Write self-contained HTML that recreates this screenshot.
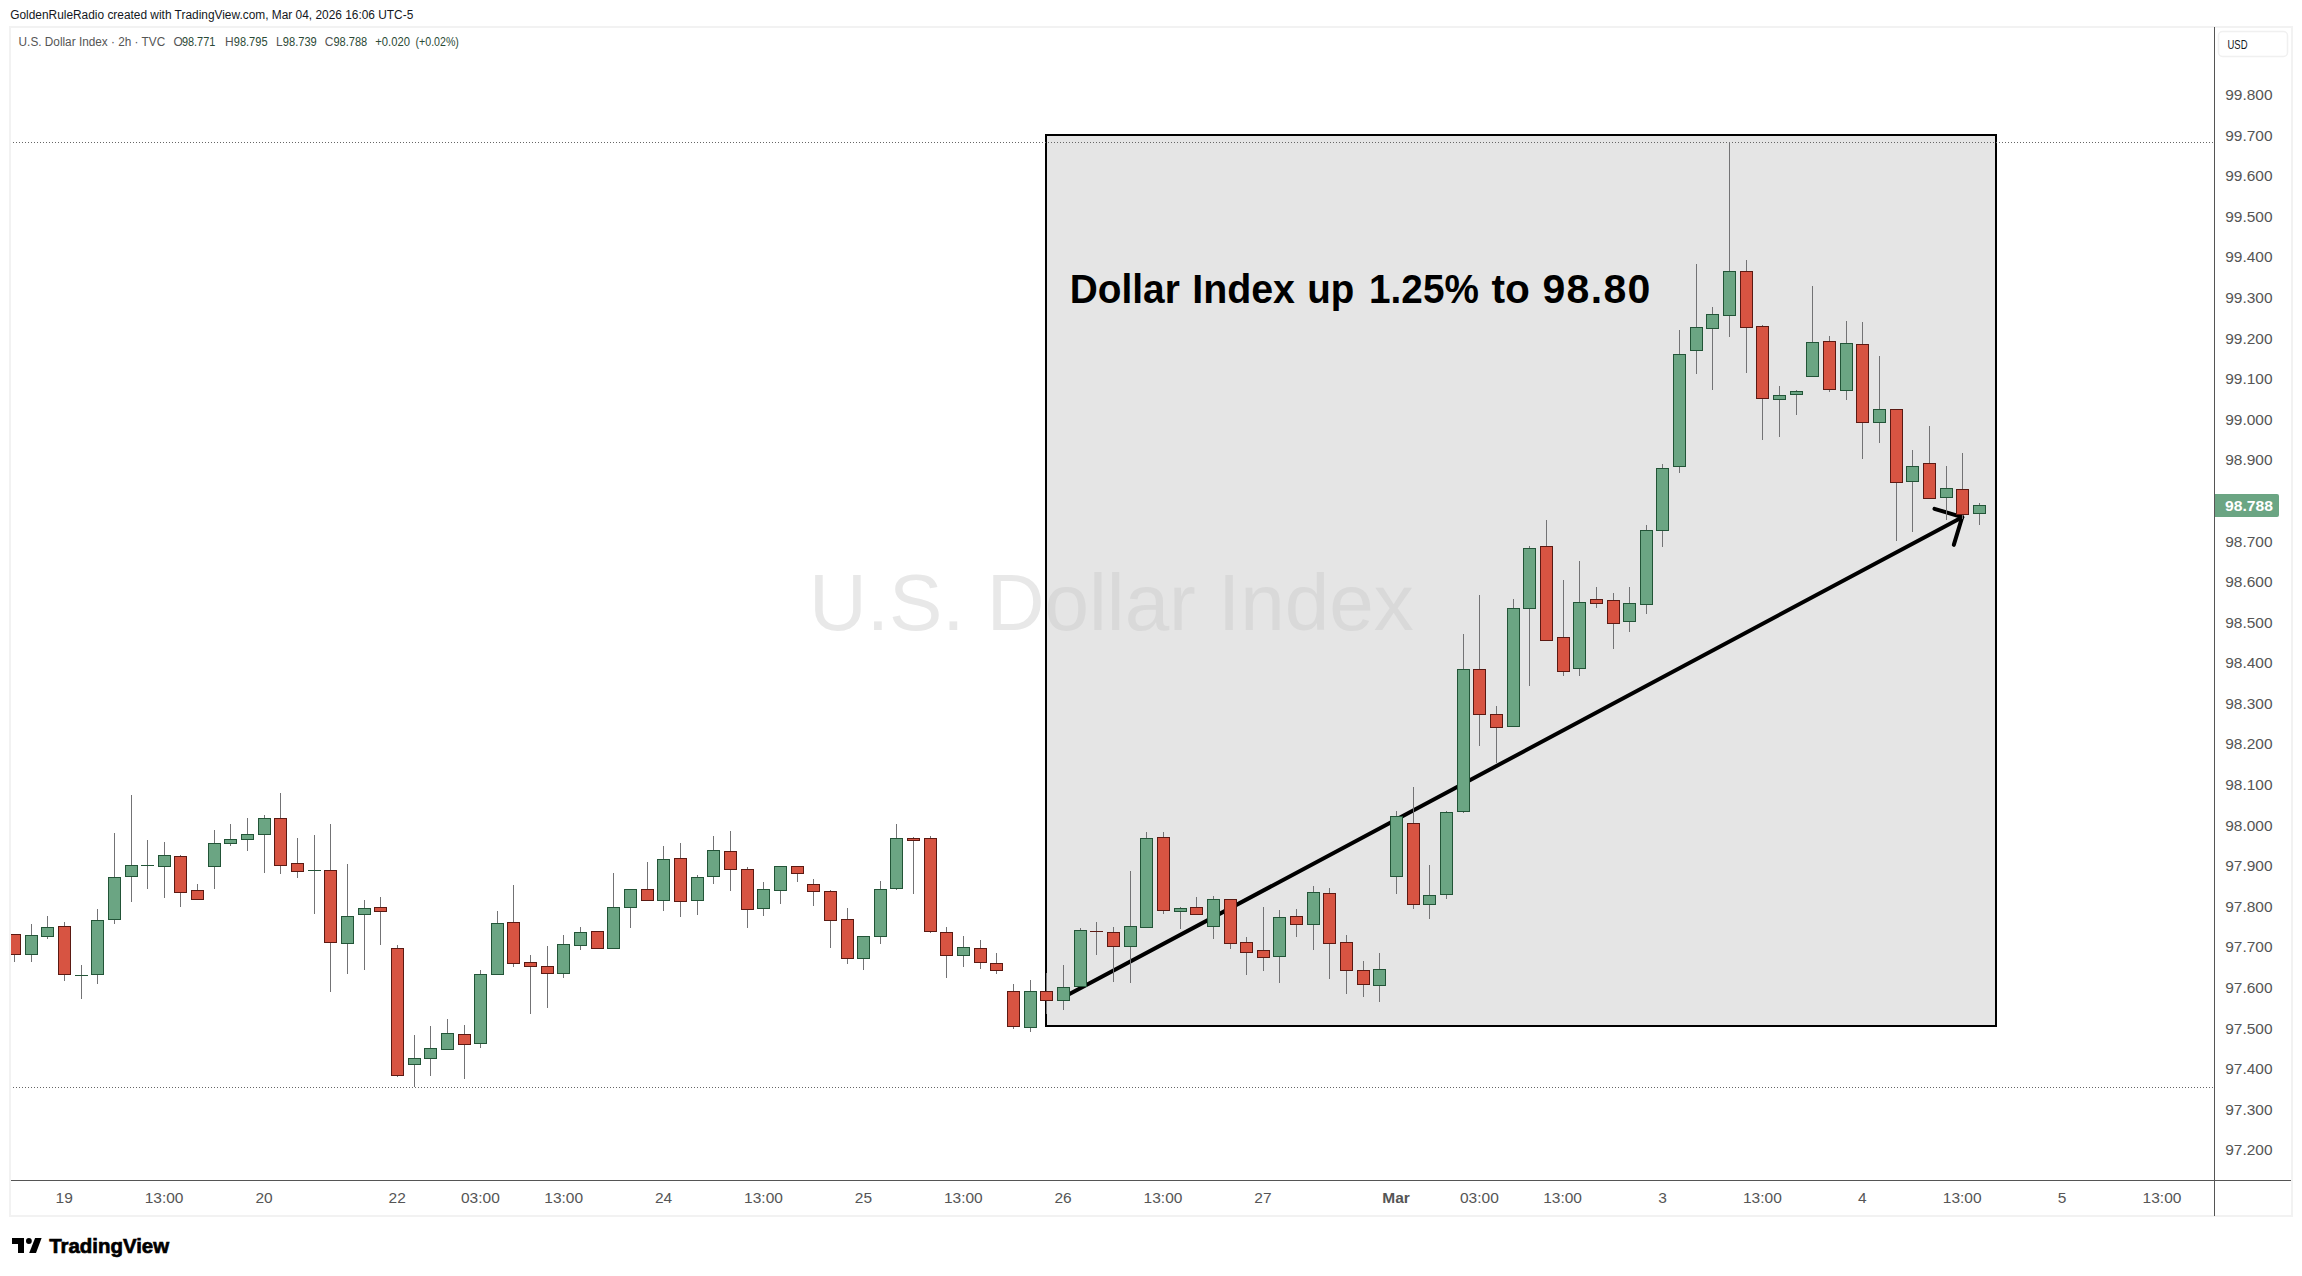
<!DOCTYPE html>
<html><head><meta charset="utf-8"><title>U.S. Dollar Index chart</title>
<style>html,body{margin:0;padding:0;background:#fff;overflow:hidden}svg{display:block}</style>
</head><body>
<svg width="2302" height="1276" viewBox="0 0 2302 1276"><rect x="0" y="0" width="2302" height="1276" fill="#ffffff"/>
<text x="10.20" y="19" font-family="Liberation Sans, DejaVu Sans, sans-serif" font-size="12.5" fill="#131722" textLength="403.10" lengthAdjust="spacingAndGlyphs">GoldenRuleRadio created with TradingView.com, Mar 04, 2026 16:06 UTC-5</text>
<rect x="10" y="27" width="2282" height="1189" fill="none" stroke="#f2f2f2" stroke-width="2"/>
<text x="809" y="630" font-family="Liberation Sans, Arial, sans-serif" font-size="80" fill="#e8e8e8">U.S. Dollar Index</text>
<rect x="1045" y="134" width="952" height="893" fill="rgb(201,201,201)" fill-opacity="0.48"/>
<rect x="1046" y="135" width="950" height="891" fill="none" stroke="#000" stroke-width="2"/>
<line x1="13" y1="142.5" x2="2213" y2="142.5" stroke="#666" stroke-width="1" stroke-dasharray="1 2"/>
<line x1="13" y1="1087.5" x2="2213" y2="1087.5" stroke="#666" stroke-width="1" stroke-dasharray="1 2"/>
<line x1="1063.4" y1="997.3" x2="1962.2" y2="517.2" stroke="#000" stroke-width="4" stroke-linecap="round"/>
<line x1="1962.2" y1="517.2" x2="1934.5" y2="508.8" stroke="#000" stroke-width="4" stroke-linecap="round"/>
<line x1="1962.2" y1="517.2" x2="1953.8" y2="544.9" stroke="#000" stroke-width="4" stroke-linecap="round"/>
<clipPath id="pane"><rect x="11" y="28" width="2203" height="1152"/></clipPath>
<g shape-rendering="crispEdges" clip-path="url(#pane)"><rect x="14" y="934" width="1" height="28" fill="#737375"/><rect x="8" y="934" width="13" height="21" fill="#5b1a13"/><rect x="9" y="935" width="11" height="19" fill="#d75442"/><rect x="31" y="924" width="1" height="38" fill="#737375"/><rect x="25" y="935" width="13" height="20" fill="#225437"/><rect x="26" y="936" width="11" height="18" fill="#6ba583"/><rect x="47" y="916" width="1" height="23" fill="#737375"/><rect x="41" y="927" width="13" height="10" fill="#225437"/><rect x="42" y="928" width="11" height="8" fill="#6ba583"/><rect x="64" y="922" width="1" height="59" fill="#737375"/><rect x="58" y="926" width="13" height="49" fill="#5b1a13"/><rect x="59" y="927" width="11" height="47" fill="#d75442"/><rect x="81" y="965" width="1" height="34" fill="#737375"/><rect x="75" y="975" width="13" height="1" fill="#225437"/><rect x="97" y="909" width="1" height="75" fill="#737375"/><rect x="91" y="920" width="13" height="55" fill="#225437"/><rect x="92" y="921" width="11" height="53" fill="#6ba583"/><rect x="114" y="833" width="1" height="91" fill="#737375"/><rect x="108" y="877" width="13" height="43" fill="#225437"/><rect x="109" y="878" width="11" height="41" fill="#6ba583"/><rect x="131" y="795" width="1" height="107" fill="#737375"/><rect x="125" y="865" width="13" height="12" fill="#225437"/><rect x="126" y="866" width="11" height="10" fill="#6ba583"/><rect x="147" y="840" width="1" height="49" fill="#737375"/><rect x="141" y="865" width="13" height="1" fill="#225437"/><rect x="164" y="842" width="1" height="56" fill="#737375"/><rect x="158" y="855" width="13" height="12" fill="#225437"/><rect x="159" y="856" width="11" height="10" fill="#6ba583"/><rect x="180" y="855" width="1" height="52" fill="#737375"/><rect x="174" y="856" width="13" height="37" fill="#5b1a13"/><rect x="175" y="857" width="11" height="35" fill="#d75442"/><rect x="197" y="884" width="1" height="16" fill="#737375"/><rect x="191" y="890" width="13" height="10" fill="#5b1a13"/><rect x="192" y="891" width="11" height="8" fill="#d75442"/><rect x="214" y="830" width="1" height="59" fill="#737375"/><rect x="208" y="843" width="13" height="24" fill="#225437"/><rect x="209" y="844" width="11" height="22" fill="#6ba583"/><rect x="230" y="824" width="1" height="22" fill="#737375"/><rect x="224" y="839" width="13" height="5" fill="#225437"/><rect x="225" y="840" width="11" height="3" fill="#6ba583"/><rect x="247" y="818" width="1" height="33" fill="#737375"/><rect x="241" y="834" width="13" height="6" fill="#225437"/><rect x="242" y="835" width="11" height="4" fill="#6ba583"/><rect x="264" y="815" width="1" height="58" fill="#737375"/><rect x="258" y="818" width="13" height="17" fill="#225437"/><rect x="259" y="819" width="11" height="15" fill="#6ba583"/><rect x="280" y="793" width="1" height="81" fill="#737375"/><rect x="274" y="818" width="13" height="48" fill="#5b1a13"/><rect x="275" y="819" width="11" height="46" fill="#d75442"/><rect x="297" y="838" width="1" height="40" fill="#737375"/><rect x="291" y="863" width="13" height="9" fill="#5b1a13"/><rect x="292" y="864" width="11" height="7" fill="#d75442"/><rect x="314" y="835" width="1" height="79" fill="#737375"/><rect x="308" y="870" width="13" height="1" fill="#225437"/><rect x="330" y="824" width="1" height="168" fill="#737375"/><rect x="324" y="870" width="13" height="73" fill="#5b1a13"/><rect x="325" y="871" width="11" height="71" fill="#d75442"/><rect x="347" y="864" width="1" height="110" fill="#737375"/><rect x="341" y="916" width="13" height="28" fill="#225437"/><rect x="342" y="917" width="11" height="26" fill="#6ba583"/><rect x="364" y="900" width="1" height="70" fill="#737375"/><rect x="358" y="908" width="13" height="7" fill="#225437"/><rect x="359" y="909" width="11" height="5" fill="#6ba583"/><rect x="380" y="897" width="1" height="48" fill="#737375"/><rect x="374" y="907" width="13" height="5" fill="#5b1a13"/><rect x="375" y="908" width="11" height="3" fill="#d75442"/><rect x="397" y="945" width="1" height="132" fill="#737375"/><rect x="391" y="948" width="13" height="128" fill="#5b1a13"/><rect x="392" y="949" width="11" height="126" fill="#d75442"/><rect x="414" y="1035" width="1" height="52" fill="#737375"/><rect x="408" y="1058" width="13" height="7" fill="#225437"/><rect x="409" y="1059" width="11" height="5" fill="#6ba583"/><rect x="430" y="1026" width="1" height="50" fill="#737375"/><rect x="424" y="1048" width="13" height="11" fill="#225437"/><rect x="425" y="1049" width="11" height="9" fill="#6ba583"/><rect x="447" y="1019" width="1" height="31" fill="#737375"/><rect x="441" y="1033" width="13" height="17" fill="#225437"/><rect x="442" y="1034" width="11" height="15" fill="#6ba583"/><rect x="464" y="1025" width="1" height="54" fill="#737375"/><rect x="458" y="1034" width="13" height="11" fill="#5b1a13"/><rect x="459" y="1035" width="11" height="9" fill="#d75442"/><rect x="480" y="970" width="1" height="78" fill="#737375"/><rect x="474" y="974" width="13" height="70" fill="#225437"/><rect x="475" y="975" width="11" height="68" fill="#6ba583"/><rect x="497" y="911" width="1" height="64" fill="#737375"/><rect x="491" y="923" width="13" height="52" fill="#225437"/><rect x="492" y="924" width="11" height="50" fill="#6ba583"/><rect x="513" y="885" width="1" height="82" fill="#737375"/><rect x="507" y="922" width="13" height="42" fill="#5b1a13"/><rect x="508" y="923" width="11" height="40" fill="#d75442"/><rect x="530" y="955" width="1" height="59" fill="#737375"/><rect x="524" y="962" width="13" height="5" fill="#5b1a13"/><rect x="525" y="963" width="11" height="3" fill="#d75442"/><rect x="547" y="946" width="1" height="62" fill="#737375"/><rect x="541" y="966" width="13" height="8" fill="#5b1a13"/><rect x="542" y="967" width="11" height="6" fill="#d75442"/><rect x="563" y="935" width="1" height="43" fill="#737375"/><rect x="557" y="944" width="13" height="30" fill="#225437"/><rect x="558" y="945" width="11" height="28" fill="#6ba583"/><rect x="580" y="927" width="1" height="23" fill="#737375"/><rect x="574" y="932" width="13" height="14" fill="#225437"/><rect x="575" y="933" width="11" height="12" fill="#6ba583"/><rect x="597" y="931" width="1" height="18" fill="#737375"/><rect x="591" y="931" width="13" height="18" fill="#5b1a13"/><rect x="592" y="932" width="11" height="16" fill="#d75442"/><rect x="613" y="873" width="1" height="76" fill="#737375"/><rect x="607" y="907" width="13" height="42" fill="#225437"/><rect x="608" y="908" width="11" height="40" fill="#6ba583"/><rect x="630" y="889" width="1" height="39" fill="#737375"/><rect x="624" y="889" width="13" height="19" fill="#225437"/><rect x="625" y="890" width="11" height="17" fill="#6ba583"/><rect x="647" y="862" width="1" height="39" fill="#737375"/><rect x="641" y="889" width="13" height="12" fill="#5b1a13"/><rect x="642" y="890" width="11" height="10" fill="#d75442"/><rect x="663" y="846" width="1" height="65" fill="#737375"/><rect x="657" y="859" width="13" height="42" fill="#225437"/><rect x="658" y="860" width="11" height="40" fill="#6ba583"/><rect x="680" y="843" width="1" height="74" fill="#737375"/><rect x="674" y="858" width="13" height="44" fill="#5b1a13"/><rect x="675" y="859" width="11" height="42" fill="#d75442"/><rect x="697" y="875" width="1" height="40" fill="#737375"/><rect x="691" y="877" width="13" height="24" fill="#225437"/><rect x="692" y="878" width="11" height="22" fill="#6ba583"/><rect x="713" y="836" width="1" height="48" fill="#737375"/><rect x="707" y="850" width="13" height="27" fill="#225437"/><rect x="708" y="851" width="11" height="25" fill="#6ba583"/><rect x="730" y="831" width="1" height="60" fill="#737375"/><rect x="724" y="851" width="13" height="19" fill="#5b1a13"/><rect x="725" y="852" width="11" height="17" fill="#d75442"/><rect x="747" y="867" width="1" height="61" fill="#737375"/><rect x="741" y="869" width="13" height="41" fill="#5b1a13"/><rect x="742" y="870" width="11" height="39" fill="#d75442"/><rect x="763" y="882" width="1" height="34" fill="#737375"/><rect x="757" y="889" width="13" height="20" fill="#225437"/><rect x="758" y="890" width="11" height="18" fill="#6ba583"/><rect x="780" y="866" width="1" height="38" fill="#737375"/><rect x="774" y="866" width="13" height="25" fill="#225437"/><rect x="775" y="867" width="11" height="23" fill="#6ba583"/><rect x="797" y="866" width="1" height="16" fill="#737375"/><rect x="791" y="866" width="13" height="8" fill="#5b1a13"/><rect x="792" y="867" width="11" height="6" fill="#d75442"/><rect x="813" y="879" width="1" height="27" fill="#737375"/><rect x="807" y="884" width="13" height="8" fill="#5b1a13"/><rect x="808" y="885" width="11" height="6" fill="#d75442"/><rect x="830" y="890" width="1" height="58" fill="#737375"/><rect x="824" y="891" width="13" height="30" fill="#5b1a13"/><rect x="825" y="892" width="11" height="28" fill="#d75442"/><rect x="847" y="908" width="1" height="56" fill="#737375"/><rect x="841" y="919" width="13" height="40" fill="#5b1a13"/><rect x="842" y="920" width="11" height="38" fill="#d75442"/><rect x="863" y="936" width="1" height="34" fill="#737375"/><rect x="857" y="936" width="13" height="23" fill="#225437"/><rect x="858" y="937" width="11" height="21" fill="#6ba583"/><rect x="880" y="881" width="1" height="63" fill="#737375"/><rect x="874" y="889" width="13" height="48" fill="#225437"/><rect x="875" y="890" width="11" height="46" fill="#6ba583"/><rect x="896" y="824" width="1" height="66" fill="#737375"/><rect x="890" y="838" width="13" height="51" fill="#225437"/><rect x="891" y="839" width="11" height="49" fill="#6ba583"/><rect x="913" y="837" width="1" height="57" fill="#737375"/><rect x="907" y="838" width="13" height="3" fill="#5b1a13"/><rect x="908" y="839" width="11" height="1" fill="#d75442"/><rect x="930" y="836" width="1" height="97" fill="#737375"/><rect x="924" y="838" width="13" height="94" fill="#5b1a13"/><rect x="925" y="839" width="11" height="92" fill="#d75442"/><rect x="946" y="927" width="1" height="51" fill="#737375"/><rect x="940" y="932" width="13" height="24" fill="#5b1a13"/><rect x="941" y="933" width="11" height="22" fill="#d75442"/><rect x="963" y="936" width="1" height="31" fill="#737375"/><rect x="957" y="947" width="13" height="9" fill="#225437"/><rect x="958" y="948" width="11" height="7" fill="#6ba583"/><rect x="980" y="940" width="1" height="29" fill="#737375"/><rect x="974" y="948" width="13" height="15" fill="#5b1a13"/><rect x="975" y="949" width="11" height="13" fill="#d75442"/><rect x="996" y="953" width="1" height="21" fill="#737375"/><rect x="990" y="963" width="13" height="8" fill="#5b1a13"/><rect x="991" y="964" width="11" height="6" fill="#d75442"/><rect x="1013" y="984" width="1" height="45" fill="#737375"/><rect x="1007" y="991" width="13" height="36" fill="#5b1a13"/><rect x="1008" y="992" width="11" height="34" fill="#d75442"/><rect x="1030" y="980" width="1" height="52" fill="#737375"/><rect x="1024" y="991" width="13" height="37" fill="#225437"/><rect x="1025" y="992" width="11" height="35" fill="#6ba583"/><rect x="1046" y="973" width="1" height="41" fill="#737375"/><rect x="1040" y="991" width="13" height="10" fill="#5b1a13"/><rect x="1041" y="992" width="11" height="8" fill="#d75442"/><rect x="1063" y="965" width="1" height="45" fill="#737375"/><rect x="1057" y="987" width="13" height="14" fill="#225437"/><rect x="1058" y="988" width="11" height="12" fill="#6ba583"/><rect x="1080" y="928" width="1" height="59" fill="#737375"/><rect x="1074" y="930" width="13" height="57" fill="#225437"/><rect x="1075" y="931" width="11" height="55" fill="#6ba583"/><rect x="1096" y="922" width="1" height="33" fill="#737375"/><rect x="1090" y="931" width="13" height="1" fill="#5b1a13"/><rect x="1113" y="927" width="1" height="55" fill="#737375"/><rect x="1107" y="932" width="13" height="15" fill="#5b1a13"/><rect x="1108" y="933" width="11" height="13" fill="#d75442"/><rect x="1130" y="871" width="1" height="112" fill="#737375"/><rect x="1124" y="926" width="13" height="21" fill="#225437"/><rect x="1125" y="927" width="11" height="19" fill="#6ba583"/><rect x="1146" y="832" width="1" height="96" fill="#737375"/><rect x="1140" y="838" width="13" height="90" fill="#225437"/><rect x="1141" y="839" width="11" height="88" fill="#6ba583"/><rect x="1163" y="832" width="1" height="82" fill="#737375"/><rect x="1157" y="837" width="13" height="74" fill="#5b1a13"/><rect x="1158" y="838" width="11" height="72" fill="#d75442"/><rect x="1180" y="907" width="1" height="22" fill="#737375"/><rect x="1174" y="908" width="13" height="4" fill="#225437"/><rect x="1175" y="909" width="11" height="2" fill="#6ba583"/><rect x="1196" y="897" width="1" height="18" fill="#737375"/><rect x="1190" y="907" width="13" height="8" fill="#5b1a13"/><rect x="1191" y="908" width="11" height="6" fill="#d75442"/><rect x="1213" y="896" width="1" height="43" fill="#737375"/><rect x="1207" y="899" width="13" height="28" fill="#225437"/><rect x="1208" y="900" width="11" height="26" fill="#6ba583"/><rect x="1230" y="899" width="1" height="50" fill="#737375"/><rect x="1224" y="899" width="13" height="45" fill="#5b1a13"/><rect x="1225" y="900" width="11" height="43" fill="#d75442"/><rect x="1246" y="937" width="1" height="38" fill="#737375"/><rect x="1240" y="942" width="13" height="11" fill="#5b1a13"/><rect x="1241" y="943" width="11" height="9" fill="#d75442"/><rect x="1263" y="907" width="1" height="64" fill="#737375"/><rect x="1257" y="950" width="13" height="8" fill="#5b1a13"/><rect x="1258" y="951" width="11" height="6" fill="#d75442"/><rect x="1279" y="910" width="1" height="73" fill="#737375"/><rect x="1273" y="917" width="13" height="40" fill="#225437"/><rect x="1274" y="918" width="11" height="38" fill="#6ba583"/><rect x="1296" y="909" width="1" height="28" fill="#737375"/><rect x="1290" y="916" width="13" height="9" fill="#5b1a13"/><rect x="1291" y="917" width="11" height="7" fill="#d75442"/><rect x="1313" y="886" width="1" height="64" fill="#737375"/><rect x="1307" y="892" width="13" height="33" fill="#225437"/><rect x="1308" y="893" width="11" height="31" fill="#6ba583"/><rect x="1329" y="888" width="1" height="91" fill="#737375"/><rect x="1323" y="893" width="13" height="51" fill="#5b1a13"/><rect x="1324" y="894" width="11" height="49" fill="#d75442"/><rect x="1346" y="935" width="1" height="59" fill="#737375"/><rect x="1340" y="942" width="13" height="29" fill="#5b1a13"/><rect x="1341" y="943" width="11" height="27" fill="#d75442"/><rect x="1363" y="961" width="1" height="36" fill="#737375"/><rect x="1357" y="970" width="13" height="15" fill="#5b1a13"/><rect x="1358" y="971" width="11" height="13" fill="#d75442"/><rect x="1379" y="953" width="1" height="49" fill="#737375"/><rect x="1373" y="969" width="13" height="17" fill="#225437"/><rect x="1374" y="970" width="11" height="15" fill="#6ba583"/><rect x="1396" y="811" width="1" height="83" fill="#737375"/><rect x="1390" y="816" width="13" height="61" fill="#225437"/><rect x="1391" y="817" width="11" height="59" fill="#6ba583"/><rect x="1413" y="787" width="1" height="122" fill="#737375"/><rect x="1407" y="823" width="13" height="82" fill="#5b1a13"/><rect x="1408" y="824" width="11" height="80" fill="#d75442"/><rect x="1429" y="865" width="1" height="54" fill="#737375"/><rect x="1423" y="895" width="13" height="10" fill="#225437"/><rect x="1424" y="896" width="11" height="8" fill="#6ba583"/><rect x="1446" y="811" width="1" height="88" fill="#737375"/><rect x="1440" y="812" width="13" height="83" fill="#225437"/><rect x="1441" y="813" width="11" height="81" fill="#6ba583"/><rect x="1463" y="634" width="1" height="179" fill="#737375"/><rect x="1457" y="669" width="13" height="143" fill="#225437"/><rect x="1458" y="670" width="11" height="141" fill="#6ba583"/><rect x="1479" y="595" width="1" height="151" fill="#737375"/><rect x="1473" y="669" width="13" height="46" fill="#5b1a13"/><rect x="1474" y="670" width="11" height="44" fill="#d75442"/><rect x="1496" y="706" width="1" height="57" fill="#737375"/><rect x="1490" y="714" width="13" height="14" fill="#5b1a13"/><rect x="1491" y="715" width="11" height="12" fill="#d75442"/><rect x="1513" y="599" width="1" height="128" fill="#737375"/><rect x="1507" y="608" width="13" height="119" fill="#225437"/><rect x="1508" y="609" width="11" height="117" fill="#6ba583"/><rect x="1529" y="546" width="1" height="140" fill="#737375"/><rect x="1523" y="548" width="13" height="61" fill="#225437"/><rect x="1524" y="549" width="11" height="59" fill="#6ba583"/><rect x="1546" y="520" width="1" height="121" fill="#737375"/><rect x="1540" y="546" width="13" height="95" fill="#5b1a13"/><rect x="1541" y="547" width="11" height="93" fill="#d75442"/><rect x="1563" y="580" width="1" height="96" fill="#737375"/><rect x="1557" y="637" width="13" height="35" fill="#5b1a13"/><rect x="1558" y="638" width="11" height="33" fill="#d75442"/><rect x="1579" y="561" width="1" height="115" fill="#737375"/><rect x="1573" y="602" width="13" height="67" fill="#225437"/><rect x="1574" y="603" width="11" height="65" fill="#6ba583"/><rect x="1596" y="587" width="1" height="21" fill="#737375"/><rect x="1590" y="599" width="13" height="5" fill="#5b1a13"/><rect x="1591" y="600" width="11" height="3" fill="#d75442"/><rect x="1613" y="593" width="1" height="56" fill="#737375"/><rect x="1607" y="600" width="13" height="24" fill="#5b1a13"/><rect x="1608" y="601" width="11" height="22" fill="#d75442"/><rect x="1629" y="587" width="1" height="45" fill="#737375"/><rect x="1623" y="603" width="13" height="19" fill="#225437"/><rect x="1624" y="604" width="11" height="17" fill="#6ba583"/><rect x="1646" y="525" width="1" height="89" fill="#737375"/><rect x="1640" y="530" width="13" height="75" fill="#225437"/><rect x="1641" y="531" width="11" height="73" fill="#6ba583"/><rect x="1662" y="464" width="1" height="83" fill="#737375"/><rect x="1656" y="468" width="13" height="63" fill="#225437"/><rect x="1657" y="469" width="11" height="61" fill="#6ba583"/><rect x="1679" y="330" width="1" height="143" fill="#737375"/><rect x="1673" y="354" width="13" height="113" fill="#225437"/><rect x="1674" y="355" width="11" height="111" fill="#6ba583"/><rect x="1696" y="264" width="1" height="110" fill="#737375"/><rect x="1690" y="327" width="13" height="24" fill="#225437"/><rect x="1691" y="328" width="11" height="22" fill="#6ba583"/><rect x="1712" y="307" width="1" height="83" fill="#737375"/><rect x="1706" y="314" width="13" height="15" fill="#225437"/><rect x="1707" y="315" width="11" height="13" fill="#6ba583"/><rect x="1729" y="142" width="1" height="195" fill="#737375"/><rect x="1723" y="271" width="13" height="45" fill="#225437"/><rect x="1724" y="272" width="11" height="43" fill="#6ba583"/><rect x="1746" y="260" width="1" height="113" fill="#737375"/><rect x="1740" y="271" width="13" height="57" fill="#5b1a13"/><rect x="1741" y="272" width="11" height="55" fill="#d75442"/><rect x="1762" y="325" width="1" height="115" fill="#737375"/><rect x="1756" y="326" width="13" height="73" fill="#5b1a13"/><rect x="1757" y="327" width="11" height="71" fill="#d75442"/><rect x="1779" y="386" width="1" height="51" fill="#737375"/><rect x="1773" y="395" width="13" height="5" fill="#225437"/><rect x="1774" y="396" width="11" height="3" fill="#6ba583"/><rect x="1796" y="390" width="1" height="25" fill="#737375"/><rect x="1790" y="391" width="13" height="4" fill="#225437"/><rect x="1791" y="392" width="11" height="2" fill="#6ba583"/><rect x="1812" y="286" width="1" height="91" fill="#737375"/><rect x="1806" y="342" width="13" height="35" fill="#225437"/><rect x="1807" y="343" width="11" height="33" fill="#6ba583"/><rect x="1829" y="336" width="1" height="56" fill="#737375"/><rect x="1823" y="341" width="13" height="49" fill="#5b1a13"/><rect x="1824" y="342" width="11" height="47" fill="#d75442"/><rect x="1846" y="321" width="1" height="79" fill="#737375"/><rect x="1840" y="343" width="13" height="48" fill="#225437"/><rect x="1841" y="344" width="11" height="46" fill="#6ba583"/><rect x="1862" y="322" width="1" height="137" fill="#737375"/><rect x="1856" y="344" width="13" height="79" fill="#5b1a13"/><rect x="1857" y="345" width="11" height="77" fill="#d75442"/><rect x="1879" y="356" width="1" height="87" fill="#737375"/><rect x="1873" y="409" width="13" height="14" fill="#225437"/><rect x="1874" y="410" width="11" height="12" fill="#6ba583"/><rect x="1896" y="409" width="1" height="132" fill="#737375"/><rect x="1890" y="409" width="13" height="74" fill="#5b1a13"/><rect x="1891" y="410" width="11" height="72" fill="#d75442"/><rect x="1912" y="450" width="1" height="82" fill="#737375"/><rect x="1906" y="466" width="13" height="16" fill="#225437"/><rect x="1907" y="467" width="11" height="14" fill="#6ba583"/><rect x="1929" y="426" width="1" height="73" fill="#737375"/><rect x="1923" y="463" width="13" height="36" fill="#5b1a13"/><rect x="1924" y="464" width="11" height="34" fill="#d75442"/><rect x="1946" y="466" width="1" height="54" fill="#737375"/><rect x="1940" y="488" width="13" height="10" fill="#225437"/><rect x="1941" y="489" width="11" height="8" fill="#6ba583"/><rect x="1962" y="453" width="1" height="66" fill="#737375"/><rect x="1956" y="489" width="13" height="26" fill="#5b1a13"/><rect x="1957" y="490" width="11" height="24" fill="#d75442"/><rect x="1979" y="503" width="1" height="22" fill="#737375"/><rect x="1973" y="505" width="13" height="9" fill="#225437"/><rect x="1974" y="506" width="11" height="7" fill="#6ba583"/></g>
<text x="1069.78" y="303" font-family="Liberation Sans, DejaVu Sans, sans-serif" font-size="41" font-weight="bold" fill="#000" textLength="109.97" lengthAdjust="spacingAndGlyphs">Dollar</text>
<text x="1192.25" y="303" font-family="Liberation Sans, DejaVu Sans, sans-serif" font-size="41" font-weight="bold" fill="#000" textLength="102.72" lengthAdjust="spacingAndGlyphs">Index</text>
<text x="1307.20" y="303" font-family="Liberation Sans, DejaVu Sans, sans-serif" font-size="41" font-weight="bold" fill="#000" textLength="47.01" lengthAdjust="spacingAndGlyphs">up</text>
<text x="1369.08" y="303" font-family="Liberation Sans, DejaVu Sans, sans-serif" font-size="41" font-weight="bold" fill="#000" textLength="109.81" lengthAdjust="spacingAndGlyphs">1.25%</text>
<text x="1491.59" y="303" font-family="Liberation Sans, DejaVu Sans, sans-serif" font-size="41" font-weight="bold" fill="#000" textLength="38.39" lengthAdjust="spacingAndGlyphs">to</text>
<text x="1542.47" y="303" font-family="Liberation Sans, DejaVu Sans, sans-serif" font-size="41" font-weight="bold" fill="#000" textLength="107.88" lengthAdjust="spacing">98.80</text>
<rect x="2214" y="27" width="1" height="1189" fill="#555"/>
<rect x="11" y="1180" width="2280" height="1" fill="#555"/>
<text x="2225.20" y="100.0" font-family="Liberation Sans, DejaVu Sans, sans-serif" font-size="15.5" fill="#555" textLength="47.32" lengthAdjust="spacingAndGlyphs">99.800</text>
<text x="2225.20" y="140.6" font-family="Liberation Sans, DejaVu Sans, sans-serif" font-size="15.5" fill="#555" textLength="47.32" lengthAdjust="spacingAndGlyphs">99.700</text>
<text x="2225.20" y="181.2" font-family="Liberation Sans, DejaVu Sans, sans-serif" font-size="15.5" fill="#555" textLength="47.32" lengthAdjust="spacingAndGlyphs">99.600</text>
<text x="2225.20" y="221.8" font-family="Liberation Sans, DejaVu Sans, sans-serif" font-size="15.5" fill="#555" textLength="47.32" lengthAdjust="spacingAndGlyphs">99.500</text>
<text x="2225.20" y="262.4" font-family="Liberation Sans, DejaVu Sans, sans-serif" font-size="15.5" fill="#555" textLength="47.32" lengthAdjust="spacingAndGlyphs">99.400</text>
<text x="2225.20" y="303.0" font-family="Liberation Sans, DejaVu Sans, sans-serif" font-size="15.5" fill="#555" textLength="47.32" lengthAdjust="spacingAndGlyphs">99.300</text>
<text x="2225.20" y="343.5" font-family="Liberation Sans, DejaVu Sans, sans-serif" font-size="15.5" fill="#555" textLength="47.32" lengthAdjust="spacingAndGlyphs">99.200</text>
<text x="2225.20" y="384.1" font-family="Liberation Sans, DejaVu Sans, sans-serif" font-size="15.5" fill="#555" textLength="47.32" lengthAdjust="spacingAndGlyphs">99.100</text>
<text x="2225.20" y="424.7" font-family="Liberation Sans, DejaVu Sans, sans-serif" font-size="15.5" fill="#555" textLength="47.32" lengthAdjust="spacingAndGlyphs">99.000</text>
<text x="2225.20" y="465.3" font-family="Liberation Sans, DejaVu Sans, sans-serif" font-size="15.5" fill="#555" textLength="47.32" lengthAdjust="spacingAndGlyphs">98.900</text>
<text x="2225.20" y="546.5" font-family="Liberation Sans, DejaVu Sans, sans-serif" font-size="15.5" fill="#555" textLength="47.32" lengthAdjust="spacingAndGlyphs">98.700</text>
<text x="2225.20" y="587.1" font-family="Liberation Sans, DejaVu Sans, sans-serif" font-size="15.5" fill="#555" textLength="47.32" lengthAdjust="spacingAndGlyphs">98.600</text>
<text x="2225.20" y="627.7" font-family="Liberation Sans, DejaVu Sans, sans-serif" font-size="15.5" fill="#555" textLength="47.32" lengthAdjust="spacingAndGlyphs">98.500</text>
<text x="2225.20" y="668.3" font-family="Liberation Sans, DejaVu Sans, sans-serif" font-size="15.5" fill="#555" textLength="47.32" lengthAdjust="spacingAndGlyphs">98.400</text>
<text x="2225.20" y="708.8" font-family="Liberation Sans, DejaVu Sans, sans-serif" font-size="15.5" fill="#555" textLength="47.32" lengthAdjust="spacingAndGlyphs">98.300</text>
<text x="2225.20" y="749.4" font-family="Liberation Sans, DejaVu Sans, sans-serif" font-size="15.5" fill="#555" textLength="47.32" lengthAdjust="spacingAndGlyphs">98.200</text>
<text x="2225.20" y="790.0" font-family="Liberation Sans, DejaVu Sans, sans-serif" font-size="15.5" fill="#555" textLength="47.32" lengthAdjust="spacingAndGlyphs">98.100</text>
<text x="2225.20" y="830.6" font-family="Liberation Sans, DejaVu Sans, sans-serif" font-size="15.5" fill="#555" textLength="47.32" lengthAdjust="spacingAndGlyphs">98.000</text>
<text x="2225.20" y="871.2" font-family="Liberation Sans, DejaVu Sans, sans-serif" font-size="15.5" fill="#555" textLength="47.32" lengthAdjust="spacingAndGlyphs">97.900</text>
<text x="2225.20" y="911.8" font-family="Liberation Sans, DejaVu Sans, sans-serif" font-size="15.5" fill="#555" textLength="47.32" lengthAdjust="spacingAndGlyphs">97.800</text>
<text x="2225.20" y="952.4" font-family="Liberation Sans, DejaVu Sans, sans-serif" font-size="15.5" fill="#555" textLength="47.32" lengthAdjust="spacingAndGlyphs">97.700</text>
<text x="2225.20" y="993.0" font-family="Liberation Sans, DejaVu Sans, sans-serif" font-size="15.5" fill="#555" textLength="47.32" lengthAdjust="spacingAndGlyphs">97.600</text>
<text x="2225.20" y="1033.6" font-family="Liberation Sans, DejaVu Sans, sans-serif" font-size="15.5" fill="#555" textLength="47.32" lengthAdjust="spacingAndGlyphs">97.500</text>
<text x="2225.20" y="1074.2" font-family="Liberation Sans, DejaVu Sans, sans-serif" font-size="15.5" fill="#555" textLength="47.32" lengthAdjust="spacingAndGlyphs">97.400</text>
<text x="2225.20" y="1114.8" font-family="Liberation Sans, DejaVu Sans, sans-serif" font-size="15.5" fill="#555" textLength="47.32" lengthAdjust="spacingAndGlyphs">97.300</text>
<text x="2225.20" y="1155.3" font-family="Liberation Sans, DejaVu Sans, sans-serif" font-size="15.5" fill="#555" textLength="47.32" lengthAdjust="spacingAndGlyphs">97.200</text>
<path d="M2215 494 H2277 a2 2 0 0 1 2 2 V515 a2 2 0 0 1 -2 2 H2215 Z" fill="#6ba583"/>
<text x="2225" y="511" font-family="Liberation Sans, DejaVu Sans, sans-serif" font-weight="bold" font-size="15" fill="#fff" textLength="48" lengthAdjust="spacingAndGlyphs">98.788</text>
<rect x="2218.5" y="31.5" width="69" height="25" rx="4" fill="#fff" stroke="#f0f0f0" stroke-width="1.5"/>
<text x="2227.5" y="48.7" font-family="Liberation Sans, DejaVu Sans, sans-serif" font-size="12" fill="#131722" textLength="20" lengthAdjust="spacingAndGlyphs">USD</text>
<text x="64.2" y="1203.2" text-anchor="middle" font-family="Liberation Sans, DejaVu Sans, sans-serif" font-size="15.5" fill="#555">19</text>
<text x="164.1" y="1203.2" text-anchor="middle" font-family="Liberation Sans, DejaVu Sans, sans-serif" font-size="15.5" fill="#555">13:00</text>
<text x="264.0" y="1203.2" text-anchor="middle" font-family="Liberation Sans, DejaVu Sans, sans-serif" font-size="15.5" fill="#555">20</text>
<text x="397.2" y="1203.2" text-anchor="middle" font-family="Liberation Sans, DejaVu Sans, sans-serif" font-size="15.5" fill="#555">22</text>
<text x="480.4" y="1203.2" text-anchor="middle" font-family="Liberation Sans, DejaVu Sans, sans-serif" font-size="15.5" fill="#555">03:00</text>
<text x="563.7" y="1203.2" text-anchor="middle" font-family="Liberation Sans, DejaVu Sans, sans-serif" font-size="15.5" fill="#555">13:00</text>
<text x="663.6" y="1203.2" text-anchor="middle" font-family="Liberation Sans, DejaVu Sans, sans-serif" font-size="15.5" fill="#555">24</text>
<text x="763.5" y="1203.2" text-anchor="middle" font-family="Liberation Sans, DejaVu Sans, sans-serif" font-size="15.5" fill="#555">13:00</text>
<text x="863.4" y="1203.2" text-anchor="middle" font-family="Liberation Sans, DejaVu Sans, sans-serif" font-size="15.5" fill="#555">25</text>
<text x="963.3" y="1203.2" text-anchor="middle" font-family="Liberation Sans, DejaVu Sans, sans-serif" font-size="15.5" fill="#555">13:00</text>
<text x="1063.1" y="1203.2" text-anchor="middle" font-family="Liberation Sans, DejaVu Sans, sans-serif" font-size="15.5" fill="#555">26</text>
<text x="1163.0" y="1203.2" text-anchor="middle" font-family="Liberation Sans, DejaVu Sans, sans-serif" font-size="15.5" fill="#555">13:00</text>
<text x="1262.9" y="1203.2" text-anchor="middle" font-family="Liberation Sans, DejaVu Sans, sans-serif" font-size="15.5" fill="#555">27</text>
<text x="1396.1" y="1203.2" text-anchor="middle" font-family="Liberation Sans, DejaVu Sans, sans-serif" font-size="15.5" font-weight="bold" fill="#555">Mar</text>
<text x="1479.4" y="1203.2" text-anchor="middle" font-family="Liberation Sans, DejaVu Sans, sans-serif" font-size="15.5" fill="#555">03:00</text>
<text x="1562.6" y="1203.2" text-anchor="middle" font-family="Liberation Sans, DejaVu Sans, sans-serif" font-size="15.5" fill="#555">13:00</text>
<text x="1662.5" y="1203.2" text-anchor="middle" font-family="Liberation Sans, DejaVu Sans, sans-serif" font-size="15.5" fill="#555">3</text>
<text x="1762.4" y="1203.2" text-anchor="middle" font-family="Liberation Sans, DejaVu Sans, sans-serif" font-size="15.5" fill="#555">13:00</text>
<text x="1862.3" y="1203.2" text-anchor="middle" font-family="Liberation Sans, DejaVu Sans, sans-serif" font-size="15.5" fill="#555">4</text>
<text x="1962.2" y="1203.2" text-anchor="middle" font-family="Liberation Sans, DejaVu Sans, sans-serif" font-size="15.5" fill="#555">13:00</text>
<text x="2062.1" y="1203.2" text-anchor="middle" font-family="Liberation Sans, DejaVu Sans, sans-serif" font-size="15.5" fill="#555">5</text>
<text x="2162.0" y="1203.2" text-anchor="middle" font-family="Liberation Sans, DejaVu Sans, sans-serif" font-size="15.5" fill="#555">13:00</text>
<text x="18.60" y="46" font-family="Liberation Sans, DejaVu Sans, sans-serif" font-size="12" fill="#555" textLength="146.61" lengthAdjust="spacingAndGlyphs">U.S. Dollar Index · 2h · TVC</text>
<text x="173.40" y="46" font-family="Liberation Sans, DejaVu Sans, sans-serif" font-size="12" fill="#555">O</text>
<text x="181.90" y="46" font-family="Liberation Sans, DejaVu Sans, sans-serif" font-size="12" fill="#2b4a36" textLength="33.41" lengthAdjust="spacingAndGlyphs">98.771</text>
<text x="224.90" y="46" font-family="Liberation Sans, DejaVu Sans, sans-serif" font-size="12" fill="#555">H</text>
<text x="233.80" y="46" font-family="Liberation Sans, DejaVu Sans, sans-serif" font-size="12" fill="#2b4a36" textLength="33.71" lengthAdjust="spacingAndGlyphs">98.795</text>
<text x="276.00" y="46" font-family="Liberation Sans, DejaVu Sans, sans-serif" font-size="12" fill="#555">L</text>
<text x="282.80" y="46" font-family="Liberation Sans, DejaVu Sans, sans-serif" font-size="12" fill="#2b4a36" textLength="34.01" lengthAdjust="spacingAndGlyphs">98.739</text>
<text x="324.70" y="46" font-family="Liberation Sans, DejaVu Sans, sans-serif" font-size="12" fill="#555">C</text>
<text x="333.40" y="46" font-family="Liberation Sans, DejaVu Sans, sans-serif" font-size="12" fill="#2b4a36" textLength="33.81" lengthAdjust="spacingAndGlyphs">98.788</text>
<text x="375.30" y="46" font-family="Liberation Sans, DejaVu Sans, sans-serif" font-size="12" fill="#2b4a36" textLength="34.69" lengthAdjust="spacingAndGlyphs">+0.020</text>
<text x="415.50" y="46" font-family="Liberation Sans, DejaVu Sans, sans-serif" font-size="12" fill="#2b4a36" textLength="43.41" lengthAdjust="spacingAndGlyphs">(+0.02%)</text>
<path d="M12 1238 H24 V1253 H18 V1244 H12 Z" fill="#000"/>
<circle cx="28.9" cy="1241" r="2.9" fill="#000"/>
<path d="M35.1 1238 H41.6 L36 1253 H29.2 Z" fill="#000"/>
<text x="49.20" y="1253" font-family="Liberation Sans, DejaVu Sans, sans-serif" font-size="21" font-weight="bold" fill="#000" textLength="119.94" lengthAdjust="spacingAndGlyphs" stroke="#000" stroke-width="0.7">TradingView</text></svg>
</body></html>
